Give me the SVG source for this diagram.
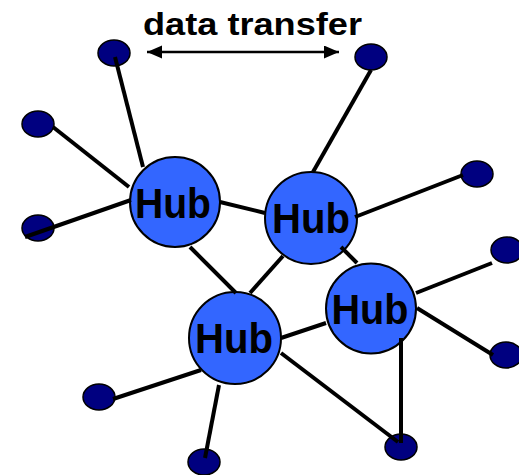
<svg xmlns="http://www.w3.org/2000/svg" width="519" height="475" viewBox="0 0 519 475">
<style>
.hub{fill:#3366FF;stroke:#000;stroke-width:2}
.dev{fill:#000080;stroke:#000;stroke-width:1.5}
.ht{font-family:"Liberation Sans",Arial,sans-serif;font-weight:bold;font-size:43px;fill:#000;text-anchor:middle}
.c line{stroke:#000;stroke-width:4}
</style>
<defs>
<marker id="ah" markerWidth="16" markerHeight="14" refX="15" refY="6.5" orient="auto-start-reverse" markerUnits="userSpaceOnUse">
<path d="M0,0 L15,6.5 L0,13 Z" fill="#000"/>
</marker>
</defs>
<rect width="519" height="475" fill="#fff"/>
<g id="n-tl"><ellipse class="dev" cx="114" cy="53" rx="16" ry="13"/></g>
<g id="n-l1"><ellipse class="dev" cx="38" cy="124" rx="16" ry="13"/></g>
<g id="n-l2"><ellipse class="dev" cx="38" cy="228" rx="16" ry="13"/></g>
<g id="n-tr"><ellipse class="dev" cx="371" cy="57" rx="16" ry="13"/></g>
<g id="n-r1"><ellipse class="dev" cx="477" cy="174" rx="16" ry="13"/></g>
<g id="n-r2"><ellipse class="dev" cx="507" cy="250" rx="16" ry="13"/></g>
<g id="n-r3"><ellipse class="dev" cx="506" cy="355" rx="16" ry="13"/></g>
<g id="n-br"><ellipse class="dev" cx="401" cy="447" rx="16" ry="13"/></g>
<g id="n-bl"><ellipse class="dev" cx="99" cy="397" rx="16" ry="13"/></g>
<g id="n-b"><ellipse class="dev" cx="204" cy="462" rx="16" ry="13"/></g>
<g id="hub1"><circle class="hub" cx="175" cy="202" r="45"/><text class="ht" x="173" y="218" textLength="76" lengthAdjust="spacingAndGlyphs">Hub</text></g>
<g id="hub2"><circle class="hub" cx="311" cy="218" r="46"/><text class="ht" x="311" y="233" textLength="78" lengthAdjust="spacingAndGlyphs">Hub</text></g>
<g id="hub3"><circle class="hub" cx="371" cy="308.5" r="45"/><text class="ht" x="370" y="324" textLength="77" lengthAdjust="spacingAndGlyphs">Hub</text></g>
<g id="hub4"><circle class="hub" cx="235" cy="338" r="46"/><text class="ht" x="234" y="353" textLength="78" lengthAdjust="spacingAndGlyphs">Hub</text></g>
<g id="connectors" class="c">
<line x1="115" y1="57" x2="143" y2="167"/>
<line x1="53" y1="127" x2="129" y2="187"/>
<line x1="25" y1="237" x2="131" y2="200"/>
<line x1="220" y1="202" x2="265" y2="213"/>
<line x1="313" y1="172" x2="371" y2="70"/>
<line x1="355" y1="217" x2="463" y2="175"/>
<line x1="190" y1="247" x2="236" y2="293"/>
<line x1="283" y1="256" x2="250" y2="293"/>
<line x1="341" y1="247" x2="357" y2="263"/>
<line x1="281" y1="338" x2="326" y2="323"/>
<line x1="416" y1="293" x2="492" y2="263"/>
<line x1="417" y1="308" x2="493" y2="355"/>
<line x1="401" y1="338" x2="401" y2="443"/>
<line x1="281" y1="353" x2="398" y2="442"/>
<line x1="113" y1="399" x2="201" y2="370"/>
<line x1="219" y1="385" x2="205" y2="458"/>
</g>
<g id="data-transfer">
<line x1="147" y1="52" x2="339" y2="52" stroke="#000" stroke-width="2.5" marker-start="url(#ah)" marker-end="url(#ah)"/>
<text x="252.5" y="35" font-family="'Liberation Sans',Arial,sans-serif" font-weight="bold" font-size="31" text-anchor="middle" textLength="219" lengthAdjust="spacingAndGlyphs">data transfer</text>
</g>
</svg>
